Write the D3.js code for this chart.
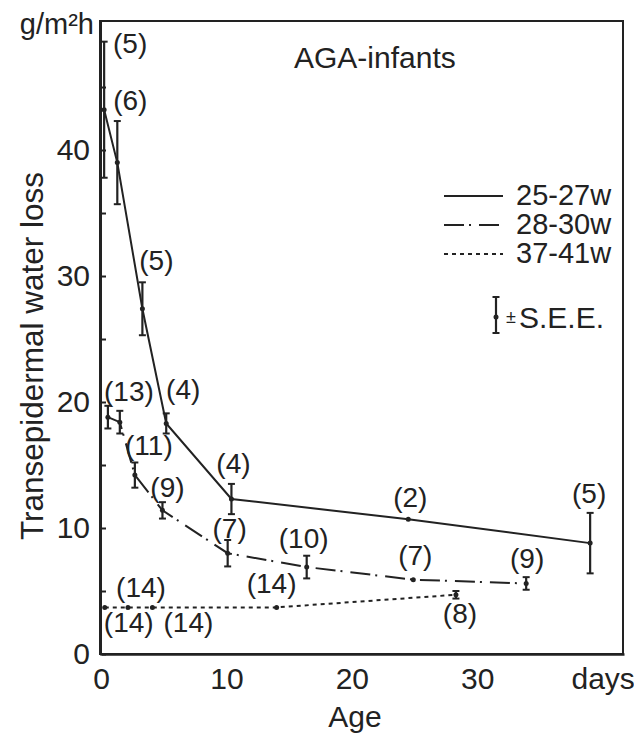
<!DOCTYPE html>
<html>
<head>
<meta charset="utf-8">
<script src="https://cdn.jsdelivr.net/npm/d3@7"></script>
<style>
  body { margin: 0; background: #fff; }
  text { font-family: "Liberation Sans", Arial, Helvetica, sans-serif; fill: #222; }
</style>
</head>
<body>
<div id="chart"></div>
<script>
// 25-27 weeks gestation
var ages2527 = [0.25, 1.3, 3.3, 5.2, 10.4, 24.5, 39.0];
var tewl2527 = [43.2, 39.0, 27.4, 18.3, 12.3, 10.7, 8.8];
var see2527 = [5.4, 3.3, 2.1, 0.8, 1.2, 0, 2.4];
var n2527 = ["(5)", "(6)", "(5)", "(4)", "(4)", "(2)", "(5)"];

// 28-30 weeks gestation
var ages2830 = [0.55, 1.5, 2.7, 4.9, 10.1, 16.4, 24.9, 33.9];
var tewl2830 = [18.8, 18.4, 14.2, 11.4, 8.0, 6.9, 5.9, 5.6];
var see2830 = [0.9, 0.9, 1.0, 0.65, 1.05, 0.9, 0, 0.5];
var n2830 = ["(13)", "", "(11)", "(9)", "(7)", "(10)", "(7)", "(9)"];

// 37-41 weeks gestation
var ages3741 = [0.3, 2.15, 4.1, 14.0, 28.3];
var tewl3741 = [3.7, 3.7, 3.7, 3.7, 4.7];
var see3741 = [0, 0, 0, 0, 0.3];
var n3741 = ["(14)", "(14)", "(14)", "(14)", "(8)"];

var xTicks = [0, 10, 20, 30, 40];
var yTicks = [0, 5, 10, 15, 20, 25, 30, 35, 40, 45];
var seriesNames = ["25-27w", "28-30w", "37-41w"];

// pixel offsets of the (n) labels from their point
var off2527 = [[26, -67], [13, -63], [14, -49], [17, -35], [2, -36], [2, -22], [-1, -50]];
var off2830 = [[21, -26], [0, 0], [14, -30], [5, -23], [2, -25], [-3, -29], [2, -25], [1, -26]];
var off3741 = [[24, 15], [13, -20], [36, 15], [-5, -24], [4, 18]];

var svgWidth = 634;
var svgHeight = 734;
var frame = { left: 100, right: 623, top: 21, bottom: 654 };

var svg = d3.select("#chart").append("svg")
  .attr("width", svgWidth)
  .attr("height", svgHeight);

var x = d3.scaleLinear().domain([0, 41.7]).range([101, 624]);
var y = d3.scaleLinear().domain([0, 50.24]).range([frame.bottom, frame.top]);

// frame
svg.append("rect")
  .attr("x", frame.left).attr("y", frame.top)
  .attr("width", frame.right - frame.left).attr("height", frame.bottom - frame.top)
  .attr("fill", "none").attr("stroke", "#222").attr("stroke-width", 2);

var yAxis = svg.append("g")
  .attr("transform", `translate(${frame.left},0)`)
  .call(d3.axisLeft(y).tickValues(yTicks).tickSizeInner(-6).tickSizeOuter(0).tickPadding(10)
    .tickFormat((d) => (d % 10 === 0 ? d : "")));
yAxis.select(".domain").attr("stroke", "#222").attr("stroke-width", 3);
yAxis.selectAll(".tick line").attr("stroke", "#222").attr("stroke-width", 2);
yAxis.selectAll("text").attr("font-size", 30).attr("font-family", null).attr("fill", "#222");

var xAxis = svg.append("g")
  .attr("transform", `translate(0,${frame.bottom})`)
  .call(d3.axisBottom(x).tickValues(xTicks).tickSize(0).tickPadding(14)
    .tickFormat((d) => (d === 40 ? "days" : d)));
xAxis.select(".domain").attr("stroke", "#222").attr("stroke-width", 2.5);
xAxis.selectAll("text").attr("font-size", 30).attr("font-family", null).attr("fill", "#222");

svg.append("text")
  .attr("x", 94).attr("y", 34)
  .attr("text-anchor", "end")
  .attr("font-size", 29)
  .text("g/m²h");

svg.append("text")
  .attr("transform", "translate(43,356) rotate(-90)")
  .attr("text-anchor", "middle")
  .attr("font-size", 31.5)
  .text("Transepidermal water loss");

svg.append("text")
  .attr("x", 355).attr("y", 727)
  .attr("text-anchor", "middle")
  .attr("font-size", 30)
  .text("Age");

svg.append("text")
  .attr("x", 294).attr("y", 68)
  .attr("font-size", 30)
  .text("AGA-infants");

var dashes = [null, "20,5,2,8", "4,4"];

function drawSeries(ages, tewl, see, counts, offs, dash) {
  var pts = ages.map((a, i) => ({ age: a, v: tewl[i], se: see[i], n: counts[i], off: offs[i] }));
  var g = svg.append("g");

  g.append("path")
    .datum(pts)
    .attr("fill", "none")
    .attr("stroke", "#222")
    .attr("stroke-width", 2)
    .attr("stroke-dasharray", dash)
    .attr("d", d3.line().x((d) => x(d.age)).y((d) => y(d.v)));

  var bars = g.selectAll(".bar").data(pts.filter((d) => d.se > 0)).enter().append("g");
  bars.append("line")
    .attr("x1", (d) => x(d.age)).attr("x2", (d) => x(d.age))
    .attr("y1", (d) => y(d.v - d.se)).attr("y2", (d) => y(d.v + d.se))
    .attr("stroke", "#222").attr("stroke-width", 2.2);
  bars.append("line")
    .attr("x1", (d) => x(d.age) - 3.5).attr("x2", (d) => x(d.age) + 3.5)
    .attr("y1", (d) => y(d.v + d.se)).attr("y2", (d) => y(d.v + d.se))
    .attr("stroke", "#222").attr("stroke-width", 2);
  bars.append("line")
    .attr("x1", (d) => x(d.age) - 3.5).attr("x2", (d) => x(d.age) + 3.5)
    .attr("y1", (d) => y(d.v - d.se)).attr("y2", (d) => y(d.v - d.se))
    .attr("stroke", "#222").attr("stroke-width", 2);

  g.selectAll(".dot").data(pts).enter().append("circle")
    .attr("cx", (d) => x(d.age))
    .attr("cy", (d) => y(d.v))
    .attr("r", 2.5)
    .attr("fill", "#222");

  g.selectAll(".count").data(pts.filter((d) => d.n)).enter().append("text")
    .attr("x", (d) => x(d.age) + d.off[0])
    .attr("y", (d) => y(d.v) + d.off[1])
    .attr("dy", "0.36em")
    .attr("text-anchor", "middle")
    .attr("font-size", 28)
    .text((d) => d.n);
}

drawSeries(ages2527, tewl2527, see2527, n2527, off2527, dashes[0]);
drawSeries(ages2830, tewl2830, see2830, n2830, off2830, dashes[1]);
drawSeries(ages3741, tewl3741, see3741, n3741, off3741, dashes[2]);

// legend
var legend = svg.append("g");
var legendY = [196, 225, 254];
seriesNames.forEach(function (name, i) {
  legend.append("line")
    .attr("x1", 444).attr("x2", 503)
    .attr("y1", legendY[i]).attr("y2", legendY[i])
    .attr("stroke", "#222").attr("stroke-width", 2)
    .attr("stroke-dasharray", dashes[i]);
  legend.append("text")
    .attr("x", 516).attr("y", legendY[i] + 9)
    .attr("font-size", 29)
    .text(name);
});

// S.E.E. symbol
var seeKey = svg.append("g");
seeKey.append("line").attr("x1", 496).attr("x2", 496).attr("y1", 297).attr("y2", 333)
  .attr("stroke", "#222").attr("stroke-width", 2.2);
seeKey.append("line").attr("x1", 492.5).attr("x2", 499.5).attr("y1", 297).attr("y2", 297)
  .attr("stroke", "#222").attr("stroke-width", 2);
seeKey.append("line").attr("x1", 492.5).attr("x2", 499.5).attr("y1", 333).attr("y2", 333)
  .attr("stroke", "#222").attr("stroke-width", 2);
seeKey.append("circle").attr("cx", 496).attr("cy", 317).attr("r", 2.5).attr("fill", "#222");
seeKey.append("text").attr("x", 511).attr("y", 323).attr("text-anchor", "middle")
  .attr("font-size", 18).text("±");
seeKey.append("text").attr("x", 519).attr("y", 328).attr("font-size", 30).text("S.E.E.");
</script>
</body>
</html>
